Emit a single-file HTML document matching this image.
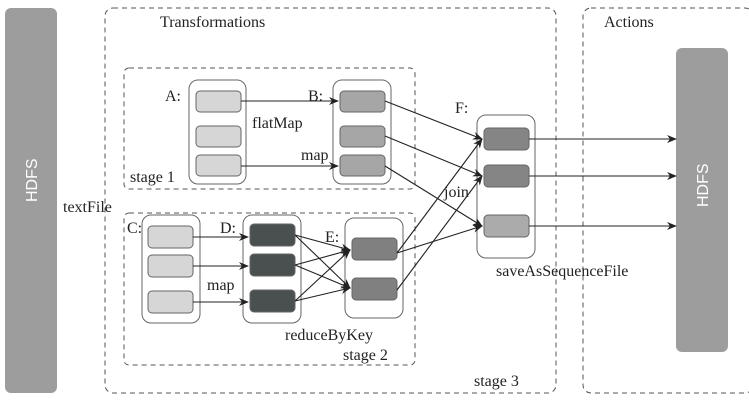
<!DOCTYPE html>
<html><head><style>body{margin:0;background:#fff}svg{display:block}</style></head><body>
<svg width="749" height="406" viewBox="0 0 749 406" xmlns="http://www.w3.org/2000/svg">
<defs><marker id="a" markerWidth="10" markerHeight="8" refX="9" refY="4" orient="auto" markerUnits="userSpaceOnUse"><path d="M0,0 L10,4 L0,8 L3,4 z" fill="#222"/></marker></defs>
<rect x="5" y="8" width="52" height="385" rx="6" fill="#9d9d9d"/>
<text transform="translate(37,202) rotate(-90)" font-family="Liberation Sans, sans-serif" font-size="16" fill="#fff">HDFS</text>
<rect x="676" y="48" width="52" height="304" rx="6" fill="#9d9d9d"/>
<text transform="translate(708,207) rotate(-90)" font-family="Liberation Sans, sans-serif" font-size="16" fill="#fff">HDFS</text>
<g fill="none" stroke="#555" stroke-dasharray="5,4" stroke-width="1">
<rect x="105" y="8" width="451" height="385" rx="8"/>
<rect x="583" y="8" width="170" height="385" rx="8"/>
<rect x="124" y="68" width="291" height="121" rx="5"/>
<rect x="124" y="213" width="291" height="152" rx="5"/>
</g>
<g font-family="Liberation Serif, serif" font-size="16" fill="#222">
<text x="160" y="27">Transformations</text><text x="604" y="27">Actions</text>
</g>
<g fill="none" stroke="#666" stroke-width="1">
<rect x="189" y="80" width="57" height="104" rx="9"/>
<rect x="333" y="80" width="58" height="104" rx="9"/>
<rect x="477" y="115" width="58" height="143" rx="9"/>
<rect x="142" y="215" width="58" height="108" rx="9"/>
<rect x="243" y="215" width="58" height="108" rx="9"/>
<rect x="345" y="218" width="58" height="100" rx="9"/>
</g>
<g stroke="#666" stroke-width="1">
<rect x="196" y="91" width="45" height="21" rx="4" fill="#d6d6d6"/>
<rect x="196" y="126" width="45" height="21" rx="4" fill="#d6d6d6"/>
<rect x="196" y="155" width="45" height="21" rx="4" fill="#d6d6d6"/>
<rect x="340" y="91" width="45" height="21" rx="4" fill="#a6a6a6"/>
<rect x="340" y="126" width="45" height="21" rx="4" fill="#a6a6a6"/>
<rect x="340" y="155" width="45" height="21" rx="4" fill="#a6a6a6"/>
<rect x="484" y="128" width="45" height="22" rx="4" fill="#858585"/>
<rect x="484" y="165" width="45" height="22" rx="4" fill="#858585"/>
<rect x="484" y="215" width="45" height="22" rx="4" fill="#ababab"/>
<rect x="148" y="226" width="45" height="22" rx="4" fill="#d6d6d6"/>
<rect x="148" y="255" width="45" height="22" rx="4" fill="#d6d6d6"/>
<rect x="148" y="291" width="45" height="22" rx="4" fill="#d6d6d6"/>
<rect x="250" y="224" width="45" height="22" rx="4" fill="#4a5050"/>
<rect x="250" y="254" width="45" height="22" rx="4" fill="#4a5050"/>
<rect x="250" y="290" width="45" height="22" rx="4" fill="#4a5050"/>
<rect x="352" y="238" width="45" height="22" rx="4" fill="#808080"/>
<rect x="352" y="278" width="45" height="22" rx="4" fill="#808080"/>
</g>
<g stroke="#222" stroke-width="1.1" marker-end="url(#a)">
<line x1="241" y1="101" x2="338" y2="101"/><line x1="241" y1="166" x2="338" y2="166"/>
<line x1="385" y1="101" x2="482" y2="139"/><line x1="385" y1="136" x2="482" y2="176"/><line x1="385" y1="166" x2="482" y2="226"/>
<line x1="397" y1="253" x2="482" y2="139"/><line x1="397" y1="253" x2="482" y2="226"/><line x1="397" y1="290" x2="482" y2="176"/>
<line x1="529" y1="139" x2="676" y2="139"/><line x1="529" y1="176" x2="676" y2="176"/><line x1="529" y1="226" x2="676" y2="226"/>
<line x1="193" y1="237" x2="248" y2="237"/><line x1="193" y1="266" x2="248" y2="266"/><line x1="193" y1="302" x2="248" y2="302"/>
<line x1="295" y1="235" x2="350" y2="250"/><line x1="295" y1="235" x2="350" y2="288"/>
<line x1="295" y1="265" x2="350" y2="250"/><line x1="295" y1="265" x2="350" y2="288"/>
<line x1="295" y1="301" x2="350" y2="250"/><line x1="295" y1="301" x2="350" y2="288"/>
</g>
<g font-family="Liberation Serif, serif" font-size="16" fill="#222">
<text x="165" y="101">A:</text><text x="308" y="101">B:</text><text x="455" y="113">F:</text>
<text x="127" y="233">C:</text><text x="220" y="233">D:</text><text x="325" y="242">E:</text>
<text x="252" y="128">flatMap</text><text x="301" y="160">map</text><text x="207" y="290">map</text>
<text x="444" y="197">join</text><text x="285" y="340">reduceByKey</text><text x="343" y="360">stage 2</text>
<text x="130" y="182">stage 1</text><text x="63" y="212">textFile</text><text x="496" y="276">saveAsSequenceFile</text><text x="474" y="386">stage 3</text>
</g>
</svg>
</body></html>
